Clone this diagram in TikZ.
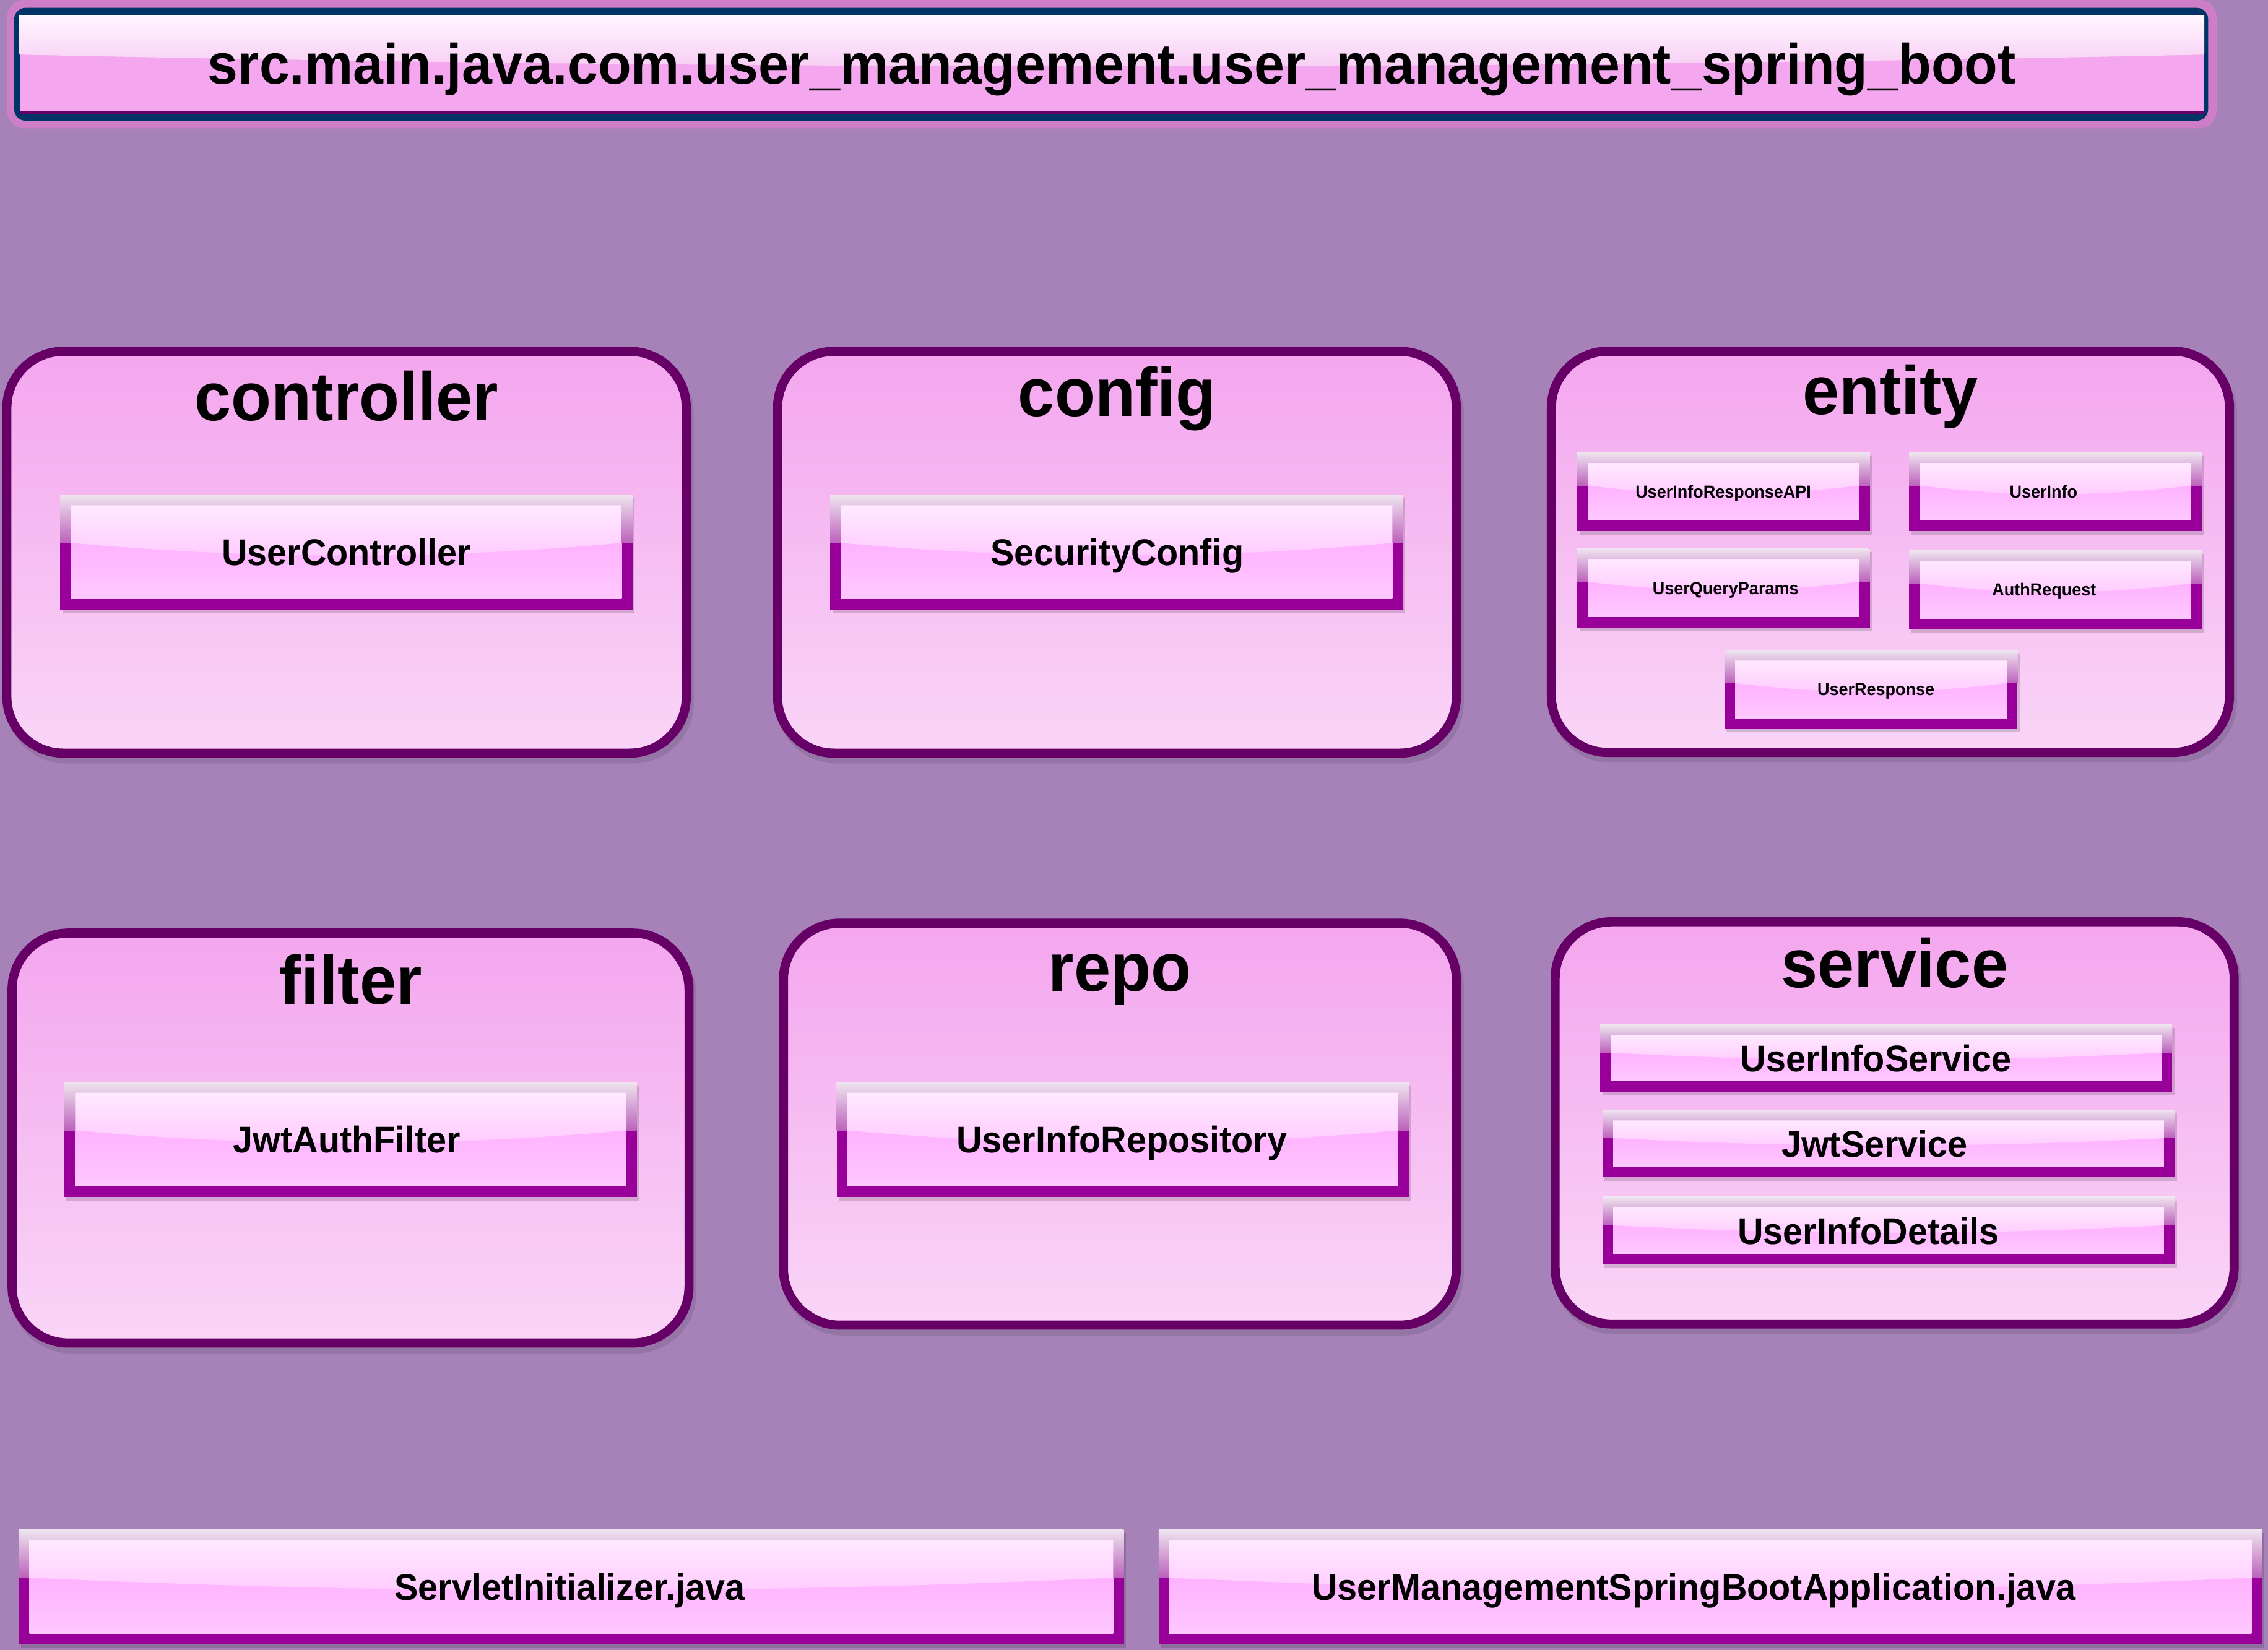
\documentclass[tikz,border=0pt]{standalone}
\usepackage{fontspec}
\setmainfont{Liberation Sans}[FakeStretch=0.96]
\definecolor{bg}{HTML}{A682B9}
\definecolor{titlepink}{HTML}{CE7EC6}
\definecolor{navy}{HTML}{003366}
\definecolor{contborder}{HTML}{660066}
\definecolor{conttop}{HTML}{F4A6EE}
\definecolor{contbot}{HTML}{F9D5F7}
\definecolor{btndark}{HTML}{990099}
\definecolor{frametop}{HTML}{EFE5EF}
\definecolor{framebot}{HTML}{BC62BC}
\definecolor{uptop}{HTML}{FFE8FF}
\definecolor{upbot}{HTML}{FFCAFF}
\definecolor{lowtop}{HTML}{FFB2FF}
\definecolor{lowbot}{HTML}{FFC8FF}
\definecolor{tup}{HTML}{FFF7FF}
\definecolor{tdown}{HTML}{F7CBF3}

\newcommand\gframe[4]{%
  \pgfmathsetmacro\gya{#2+0.42*(#4-#2)}%
  \pgfmathsetmacro\gxi{#1+7.4}%
  \pgfmathsetmacro\gxj{#3-7.4}%
  \pgfmathsetmacro\gyi{#2+7.4}%
  \pgfmathsetmacro\gyj{#4-7.4}%
  \pgfmathsetmacro\gcy{\gya+0.11*(#4-#2)*1.333}%
  \pgfmathsetmacro\gca{\gxi+(\gxj-\gxi)/3}%
  \pgfmathsetmacro\gcb{\gxi+2*(\gxj-\gxi)/3}%
  \fill[black,opacity=.15] (#1+1.5,#2+2.5) rectangle (#3+1.5,#4+2.5);
  \fill[btndark] (#1,#2) rectangle (#3,#4);
  \shade[top color=frametop,bottom color=framebot] (#1,#2) rectangle (#3,\gya);
  \shade[top color=lowtop,bottom color=lowbot] (\gxi,\gya) rectangle (\gxj,\gyj);
  \shade[top color=uptop,bottom color=upbot] (\gxi,\gyi) -- (\gxj,\gyi) -- (\gxj,\gya)
     .. controls (\gcb,\gcy) and (\gca,\gcy) .. (\gxi,\gya) -- cycle;
}
% #1 name, #2 x1, #3 y1, #4 x2, #5 y2, #6 text centre x, #7 style, #8 text
\newcommand\gbtn[8]{%
  \gframe{#2}{#3}{#4}{#5}
  \node[#7, minimum width={(#4-#2)*0.02cm}, minimum height={(#5-#3)*0.02cm}] (#1) at (#6,{(#3+#5)/2}) {#8};
}
% #1 name, #2 x1, #3 y1, #4 x2, #5 y2, #6 title baseline, #7 title
\newcommand\gcont[7]{%
  \fill[black,opacity=.10,rounded corners=0.84cm] (#2+2,#3+4) rectangle (#4+2,#5+4);
  \node[contbox, minimum width={(#4-#2-6.3)*0.02cm}, minimum height={(#5-#3-6.3)*0.02cm}] (#1) at ({(#2+#4)/2},{(#3+#5)/2}) {};
  \node[conttitle, anchor=base] (#1-title) at ({(#2+#4)/2},#6) {#7};
}

\tikzset{
  contbox/.style={draw=contborder, line width=0.126cm, rounded corners=0.78cm,
    top color=conttop, bottom color=contbot, inner sep=0pt},
  conttitle/.style={inner sep=0pt, font=\fontsize{27}{30}\selectfont\bfseries},
  titletext/.style={inner sep=0pt, font=\fontsize{22.3}{25}\selectfont\bfseries},
  btntext/.style={inner sep=0pt, font=\fontsize{14.6}{16}\selectfont\bfseries,
    text height=10.45pt, text depth=0pt},
  smalltext/.style={inner sep=0pt, font=\fontsize{6.85}{8}\selectfont\bfseries,
    text height=4.9pt, text depth=0pt}
}

\begin{document}
\begin{tikzpicture}[x=0.02cm,y=-0.02cm]
\fill[bg] (0,0) rectangle (1568,1140.9);
\useasboundingbox (0,0) rectangle (1568,1140.9);

% title bar
\fill[titlepink, rounded corners=0.24cm] (4.9,0) rectangle (1532.5,88.7);
\fill[navy, rounded corners=0.16cm] (9.8,5.4) rectangle (1526.6,83.5);
\fill[conttop] (13.5,10.3) rectangle (1524,77);
\shade[top color=tup, bottom color=tdown] (13.5,10.3) -- (1524,10.3) -- (1524,37.8)
   .. controls (1020,48.5) and (517,48.5) .. (13.5,37.8) -- cycle;
\fill[contborder] (13.5,77) rectangle (1524,78.7);
\node[titletext, anchor=base] (title) at (768.8,57.8) {src.main.java.com.user\_management.user\_management\_spring\_boot};

% containers
\gcont{controller}{1.6}{239.8}{477.6}{523.9}{290.7}{controller}
\gcont{config}{534.4}{239.8}{1010}{523.9}{287.8}{config}
\gcont{entity}{1069.4}{239.7}{1544.5}{523.4}{286.5}{entity}
\gcont{filter}{5.2}{642}{479.5}{931.8}{694.3}{filter}
\gcont{repo}{538.5}{635.2}{1010}{919.4}{685.4}{repo}
\gcont{service}{1072}{634.2}{1547.7}{918.6}{682.8}{service}

% buttons
\gbtn{uc}{41.7}{342}{437.2}{421.5}{239.5}{btntext}{UserController}
\gbtn{sc}{574}{342}{970}{421.5}{772.3}{btntext}{SecurityConfig}
\gbtn{jaf}{44.5}{748.2}{440.2}{827.7}{239.8}{btntext}{JwtAuthFilter}
\gbtn{uir}{578.4}{748.2}{974}{827.7}{775.6}{btntext}{UserInfoRepository}

\gbtn{uira}{1090.4}{312.8}{1292.7}{367.2}{1191.4}{smalltext}{UserInfoResponseAPI}
\gbtn{ui}{1319.8}{312.8}{1522.2}{367.2}{1412.8}{smalltext}{UserInfo}
\gbtn{uqp}{1090.4}{379.2}{1292.7}{434}{1193}{smalltext}{UserQueryParams}
\gbtn{ar}{1319.8}{380.5}{1522.2}{435.1}{1413.2}{smalltext}{AuthRequest}
\gbtn{ur}{1192.2}{449.4}{1394.8}{503.9}{1296.9}{smalltext}{UserResponse}

\gbtn{uis}{1106.3}{708.3}{1501.7}{754.9}{1297}{btntext}{UserInfoService}
\gbtn{js}{1107.9}{767.3}{1503.4}{814}{1296}{btntext}{JwtService}
\gbtn{uid}{1107.9}{827.6}{1503.4}{874.4}{1291.6}{btntext}{UserInfoDetails}

\gbtn{si}{13}{1057.5}{777}{1137}{394}{btntext}{ServletInitializer.java}
\gbtn{app}{801}{1057.5}{1564}{1137}{1171}{btntext}{UserManagementSpringBootApplication.java}
\end{tikzpicture}
\end{document}
